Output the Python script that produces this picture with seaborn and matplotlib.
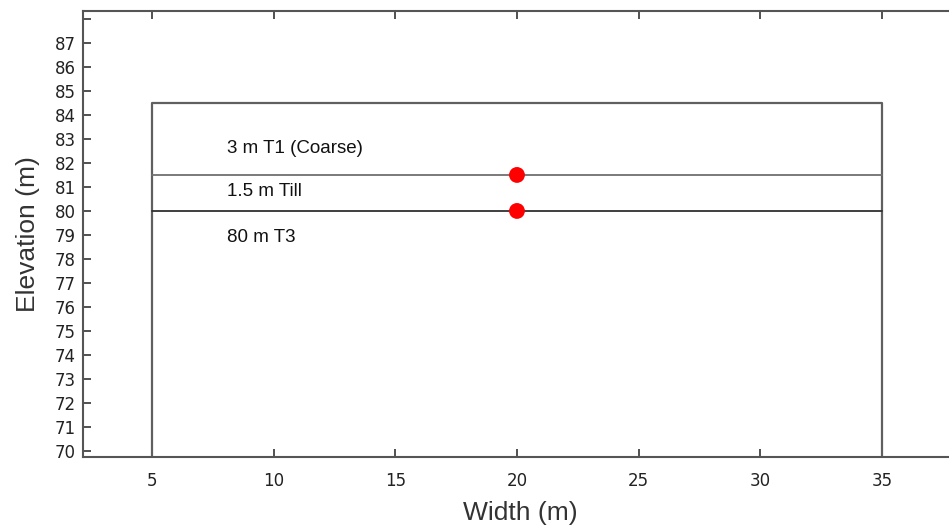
import matplotlib
matplotlib.use("Agg")
import matplotlib.pyplot as plt
import seaborn as sns
import numpy as np
import pandas as pd

# Data
domain_x = [5, 5, 35, 35]
domain_y = [69.75, 84.5, 84.5, 69.75]
layer_boundaries = [81.5, 80.0]
layer_labels = ["3 m T1 (Coarse)", "1.5 m Till", "80 m T3"]
label_y = [82.6, 80.8, 78.9]
label_x = 8.1
point_x = [20, 20]
point_y = [81.5, 80.0]
yticks = list(range(70, 89))
xticks = [5, 10, 15, 20, 25, 30, 35]

sns.set_theme(style="white")
plt.rcParams['font.family'] = ['DejaVu Sans']

fig = plt.figure(figsize=(9.49, 5.27), dpi=100)
ax = fig.add_axes([83/949, 70/527, (958-83)/949, (457-11)/527])

# domain outline
sns.lineplot(x=domain_x, y=domain_y, sort=False, estimator=None, color="#606060",
             linewidth=1.6, ax=ax)
# layer boundaries
bcolors = ["#707070", "#303030"]
for yb, c in zip(layer_boundaries, bcolors):
    sns.lineplot(x=[5, 35], y=[yb, yb], estimator=None, color=c, linewidth=1.3, ax=ax)

sns.scatterplot(x=point_x, y=point_y, color="red", s=130, edgecolor="none", ax=ax, zorder=5)

for t, yy in zip(layer_labels, label_y):
    ax.text(label_x, yy, t, fontsize=13.5, family="Liberation Sans", color="#111111",
            va="center", ha="left")

ax.set_xlim(2.17, 38.12)
ax.set_ylim(69.75, 88.33)
ax.set_xticks(xticks)
ax.set_yticks(yticks)
ax.set_yticklabels([str(v) if v < 88 else "" for v in yticks])
ax.tick_params(axis="both", direction="in", length=6, width=1.2, color="#333333",
               labelsize=12, labelcolor="#222222", top=True, right=True, bottom=True, left=True)
ax.tick_params(axis="x", pad=11)
ax.tick_params(axis="y", pad=5)

for side in ["left", "bottom", "top"]:
    ax.spines[side].set_color("#555555")
    ax.spines[side].set_linewidth(1.5)
ax.spines["right"].set_visible(False)

ax.set_xlabel("Width (m)", fontsize=19, family="Liberation Sans", color="#333333", labelpad=8)
ax.set_ylabel("Elevation (m)", fontsize=19, family="Liberation Sans", color="#333333", labelpad=11)

fig.savefig("out.png", dpi=100)
